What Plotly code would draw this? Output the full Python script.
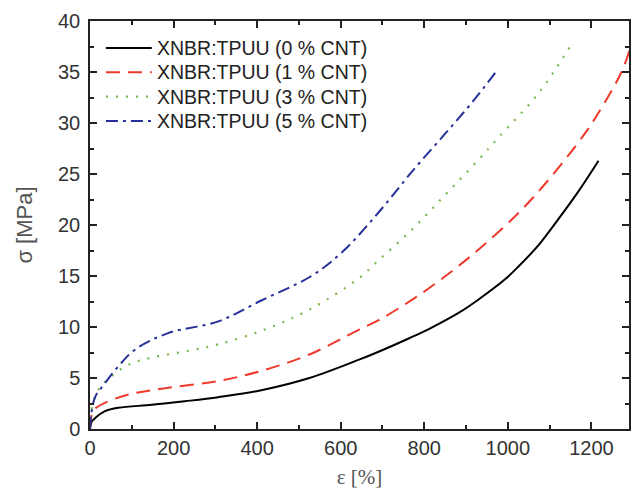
import plotly.graph_objects as go

# strain [%] / stress [MPa]
eps_0 = [0, 4, 13, 36, 68, 148, 227, 307, 410, 525, 644, 692, 764, 811, 883, 930, 994, 1026, 1073, 1105, 1169, 1217]
sig_0 = [0, 0.7, 1.1, 1.75, 2.08, 2.37, 2.72, 3.12, 3.8, 5.0, 6.8, 7.6, 8.9, 9.8, 11.4, 12.7, 14.7, 15.95, 18.0, 19.7, 23.3, 26.3]

eps_1 = [0, 3, 10, 36, 92, 187, 307, 410, 525, 644, 692, 772, 851, 930, 1026, 1105, 1185, 1217, 1272, 1295]
sig_1 = [0, 1.2, 1.9, 2.57, 3.38, 4.04, 4.7, 5.7, 7.3, 9.75, 10.7, 12.7, 15.0, 17.6, 21.2, 24.8, 29.0, 31.0, 35.0, 37.6]

eps_3 = [0, 3, 21, 52, 92, 148, 227, 307, 418, 525, 644, 692, 772, 851, 930, 978, 1073, 1149]
sig_3 = [0, 1.8, 3.9, 5.2, 6.3, 7.0, 7.6, 8.3, 9.75, 11.7, 14.8, 16.6, 19.6, 23.0, 26.4, 28.6, 32.9, 37.5]

eps_5 = [0, 3, 13, 36, 68, 108, 187, 307, 410, 530, 605, 692, 772, 851, 914, 975]
sig_5 = [0, 1.5, 3.2, 4.5, 6.15, 7.8, 9.4, 10.55, 12.6, 15.0, 17.4, 21.3, 25.3, 29.0, 32.0, 35.2]

names = ['XNBR:TPUU (0 % CNT)', 'XNBR:TPUU (1 % CNT)',
         'XNBR:TPUU (3 % CNT)', 'XNBR:TPUU (5 % CNT)']
colors = ['#000000', '#ee3a2c', '#7cb84a', '#27309a']
dashes = ['solid', '14px,8px', '2px,8px', '12px,5px,3px,5px']
widths = [2, 2, 2.2, 2]

series = [(eps_0, sig_0), (eps_1, sig_1), (eps_3, sig_3), (eps_5, sig_5)]

fig = go.Figure()
for (xs, ys), nm, c, d, w in zip(series, names, colors, dashes, widths):
    fig.add_trace(go.Scatter(x=xs, y=ys, mode='lines', name=nm, showlegend=False,
                             line=dict(color=c, width=w, dash=d, shape='spline', smoothing=1.0)))

# legend drawn by hand so the row spacing matches
L, T, W, H = 90, 21, 541, 408
for i, (nm, c, d, w) in enumerate(zip(names, colors, dashes, widths)):
    py = 48 + i * 24.3
    yp = 1 - (py - T) / H
    fig.add_shape(type='line', xref='paper', yref='paper',
                  x0=(106 - L) / W, x1=(152 - L) / W, y0=yp, y1=yp,
                  line=dict(color=c, width=w, dash=d))
    fig.add_annotation(xref='paper', yref='paper', x=(155 - L) / W, y=yp,
                       xanchor='left', yanchor='middle', showarrow=False, text=nm,
                       font=dict(family='Arial', size=19.5, color='#222222'))

axis_font = dict(family='Arial', size=20, color='#333333')
fig.update_layout(
    width=631, height=491,
    margin=dict(l=L, r=0, t=T, b=62),
    paper_bgcolor='#ffffff',
    plot_bgcolor='#ffffff',
    font=dict(family='Arial', size=18, color='#222222'),
    showlegend=False,
    xaxis=dict(range=[0, 1290], tickvals=[0, 200, 400, 600, 800, 1000, 1200],
               ticks='inside', ticklen=7, tickwidth=1.5, tickcolor='#222',
               minor=dict(dtick=100, ticks='inside', ticklen=4, tickcolor='#222'),
               showline=True, linecolor='#222', linewidth=1.5, mirror='ticks',
               showgrid=False, zeroline=False, tickfont=axis_font,
               title=dict(text='ε [%]', font=dict(family='Times New Roman, serif', size=21, color='#555555'),
                          standoff=12)),
    yaxis=dict(range=[0, 40], tickvals=[0, 5, 10, 15, 20, 25, 30, 35, 40],
               ticks='inside', ticklen=7, tickwidth=1.5, tickcolor='#222',
               minor=dict(dtick=2.5, ticks='inside', ticklen=4, tickcolor='#222'),
               showline=True, linecolor='#222', linewidth=1.5, mirror='ticks',
               showgrid=False, zeroline=False, tickfont=axis_font, ticklabelstandoff=4,
               title=dict(text='σ [MPa]', font=dict(family='Arial', size=22, color='#555555'),
                          standoff=19)),
)

fig.write_html('out.html', config={'displayModeBar': False},
               post_script="document.body.style.margin='0';")
